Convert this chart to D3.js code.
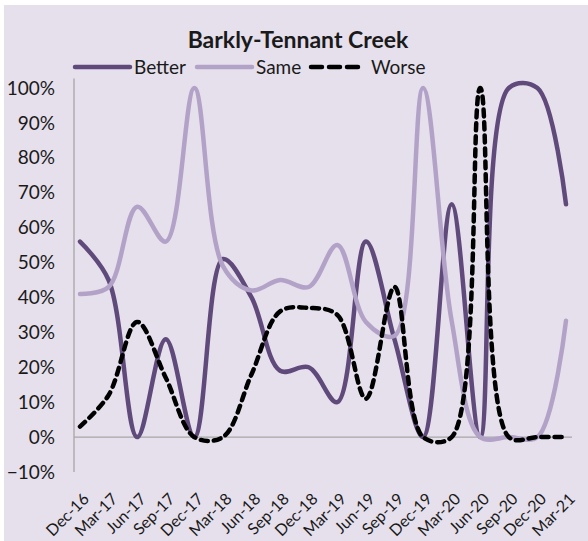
<!DOCTYPE html>
<html>
<head>
<meta charset="utf-8">
<script src="https://cdn.jsdelivr.net/npm/d3@7"></script>
<style>
  body { margin: 0; background: #fff; }
  text { font-family: Lato, "Open Sans", sans-serif; }
</style>
</head>
<body>
<script>
// Data

var quarters = ["Dec-16", "Mar-17", "Jun-17", "Sep-17", "Dec-17", "Mar-18", "Jun-18", "Sep-18", "Dec-18",
  "Mar-19", "Jun-19", "Sep-19", "Dec-19", "Mar-20", "Jun-20", "Sep-20", "Dec-20", "Mar-21"];
var better = [0.56, 0.45, 0.00, 0.28, 0.00, 0.51, 0.40, 0.19, 0.20, 0.10, 0.56, 0.28, 0.00, 0.667, 0.00, 1.00, 1.00, 0.667];
var same   = [0.41, 0.43, 0.66, 0.56, 1.00, 0.49, 0.42, 0.45, 0.43, 0.55, 0.33, 0.29, 1.00, 0.333, 0.00, 0.00, 0.00, 0.333];
var worse  = [0.03, 0.12, 0.33, 0.17, 0.00, 0.00, 0.18, 0.36, 0.37, 0.35, 0.11, 0.43, 0.00, 0.00, 1.00, 0.00, 0.00, 0.00];
var yTicks = [-0.1, 0, 0.1, 0.2, 0.3, 0.4, 0.5, 0.6, 0.7, 0.8, 0.9, 1.0];

var w = 588;
var h = 541;

var series = [
  {name: "Better", values: better, color: "#604a7b", dash: null},
  {name: "Same", values: same, color: "#b3a2c7", dash: null},
  {name: "Worse", values: worse, color: "#000000", dash: "7,6"}
];

/*
-----SVG-----
*/
var svg = d3.select("body")
  .append("svg")
  .attr("width", w)
  .attr("height", h);

svg.append("rect")
  .attr("x", 4)
  .attr("y", 5)
  .attr("width", w - 4)
  .attr("height", h - 5)
  .attr("fill", "#e6e0ec");

var x = d3.scalePoint()
  .domain(quarters)
  .range([80, 566]);

var y = d3.scaleLinear()
  .domain([-0.1, 1])
  .range([472, 88]);

/*
----Title & legend----
*/
svg.append("text")
  .attr("x", 298)
  .attr("y", 48)
  .attr("text-anchor", "middle")
  .attr("font-size", 23)
  .attr("font-weight", "bold")
  .attr("fill", "#1a1a1a")
  .text("Barkly-Tennant Creek");

var legendX = [75, 197, 311];
var legend = svg.selectAll(".legend")
  .data(series)
  .enter()
  .append("g")
  .attr("class", "legend")
  .attr("transform", function(d, i) { return "translate(" + legendX[i] + ",67)"; });

legend.append("line")
  .attr("x1", 0)
  .attr("x2", function(d) { return d.dash ? 52 : 55; })
  .attr("stroke", function(d) { return d.color; })
  .attr("stroke-width", 4.5)
  .attr("stroke-linecap", "round")
  .attr("stroke-dasharray", function(d) { return d.dash ? "11,7" : null; });

legend.append("text")
  .attr("x", function(d) { return d.dash ? 60 : 59; })
  .attr("dy", "0.35em")
  .attr("font-size", 19)
  .attr("fill", "#1a1a1a")
  .text(function(d) { return d.name; });

/*
----Axes----
*/
var yAxis = svg.append("g")
  .attr("transform", "translate(74,0)")
  .call(d3.axisLeft(y)
    .tickValues(yTicks)
    .tickSize(0)
    .tickPadding(19)
    .tickFormat(d3.format(".0%")));

yAxis.select(".domain").remove();
yAxis.selectAll("text")
  .attr("font-size", 19)
  .attr("font-family", "Lato, sans-serif")
  .attr("fill", "#1a1a1a");

svg.append("line")
  .attr("x1", 74).attr("x2", 74)
  .attr("y1", y(1.027)).attr("y2", y(-0.1))
  .attr("stroke", "#a6a6a6")
  .attr("stroke-width", 1.3);

svg.append("line")
  .attr("x1", 74).attr("x2", 572)
  .attr("y1", y(0)).attr("y2", y(0))
  .attr("stroke", "#a6a6a6")
  .attr("stroke-width", 1.3);

svg.selectAll(".xlabel")
  .data(quarters)
  .enter()
  .append("text")
  .attr("class", "xlabel")
  .attr("transform", function(d) { return "translate(" + (x(d) + 10) + ",500) rotate(-45)"; })
  .attr("text-anchor", "end")
  .attr("font-size", 16)
  .attr("fill", "#1a1a1a")
  .text(function(d) { return d; });

/*
----Lines----
*/
var line = d3.line()
  .x(function(d, i) { return x(quarters[i]); })
  .y(function(d) { return y(d); })
  .curve(d3.curveCatmullRom.alpha(0.5));

svg.selectAll(".series")
  .data(series)
  .enter()
  .append("path")
  .attr("class", "series")
  .attr("d", function(d) { return line(d.values); })
  .attr("fill", "none")
  .attr("stroke", function(d) { return d.color; })
  .attr("stroke-width", 4.5)
  .attr("stroke-linecap", "round")
  .attr("stroke-linejoin", "round")
  .attr("stroke-dasharray", function(d) { return d.dash; });
</script>
</body>
</html>
